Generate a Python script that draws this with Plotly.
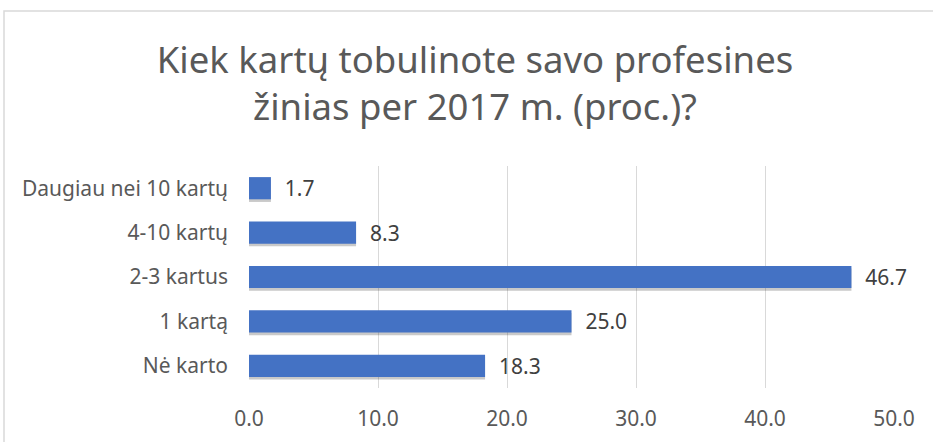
import plotly.graph_objects as go

categories = ["Nė karto", "1 kartą", "2-3 kartus", "4-10 kartų", "Daugiau nei 10 kartų"]
values = [18.3, 25.0, 46.7, 8.3, 1.7]
x_ticks = [0, 10, 20, 30, 40, 50]
title_text = "Kiek kartų tobulinote savo profesines<br>žinias per 2017 m. (proc.)?"

FONT = "Noto Sans"
W, H = 933, 442
L, R, T, B = 249, 39, 166, 54

fig = go.Figure()
# soft drop shadow
fig.add_trace(go.Bar(
    y=categories, x=values, orientation="h",
    marker=dict(color="rgba(60,60,60,0.28)", line=dict(width=0)),
    width=0.5, offset=-0.31, hoverinfo="skip",
))
fig.add_trace(go.Bar(
    y=categories, x=values, orientation="h",
    marker=dict(color="#4472C4", line=dict(width=0)),
    width=0.5, offset=-0.25,
    text=["\u00a0\u00a0" + f"{v:.1f}" for v in values], textposition="outside",
    constraintext="none",
    textfont=dict(family=FONT, size=21, color="#404040"),
    cliponaxis=False,
))

fig.update_layout(
    width=W, height=H,
    margin=dict(l=L, r=R, t=T, b=B, autoexpand=False),
    paper_bgcolor="white", plot_bgcolor="white",
    barmode="overlay",
    title=dict(text=title_text, x=475 / W, xanchor="center", xref="container",
               y=1 - 73 / H, yanchor="middle", yref="container",
               font=dict(family=FONT, size=36.5, color="#595959")),
    showlegend=False,
    xaxis=dict(range=[0, 50], tickvals=x_ticks, ticktext=[f"{t:.1f}" for t in x_ticks],
               showgrid=True, gridcolor="#d9d9d9", gridwidth=1, zeroline=False,
               showline=False, ticks="", ticklabelstandoff=16, automargin=False,
               tickfont=dict(family=FONT, size=21, color="#595959")),
    yaxis=dict(showgrid=False, zeroline=False, showline=False, ticks="",
               ticklabelstandoff=20, automargin=False,
               tickfont=dict(family=FONT, size=21, color="#595959")),
    shapes=[dict(type="rect", xref="paper", yref="paper",
                 x0=(4 - L) / (W - L - R), x1=1.2, y0=-0.5, y1=(H - B - 11) / (H - T - B),
                 line=dict(color="#d9d9d9", width=1.5), fillcolor="rgba(0,0,0,0)", layer="below")],
)
fig.write_html("out.html", config={"displayModeBar": False},
               post_script="document.body.style.margin='0';")
